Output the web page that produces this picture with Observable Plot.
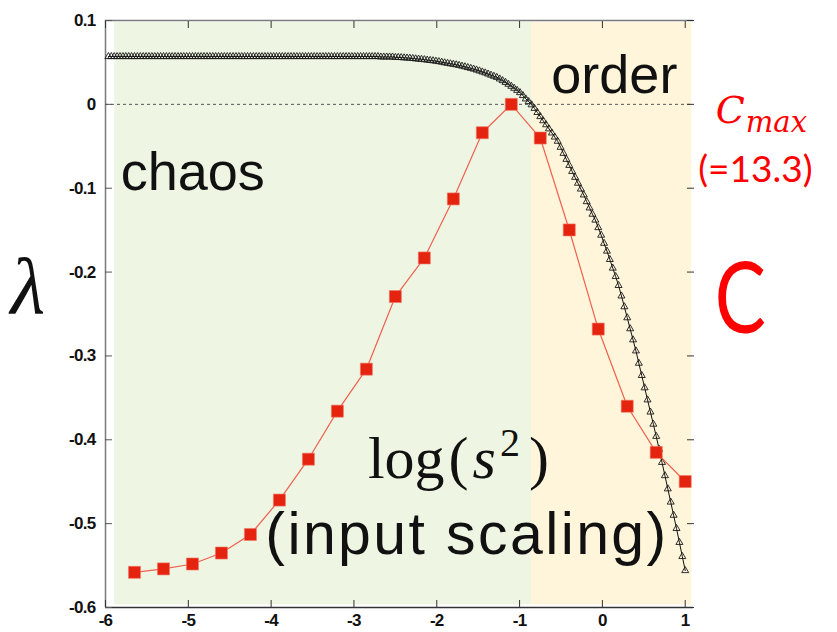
<!DOCTYPE html>
<html>
<head>
<meta charset="utf-8">
<script src="https://cdn.jsdelivr.net/npm/d3@7"></script>
<script src="https://cdn.jsdelivr.net/npm/@observablehq/plot@0.6"></script>
<style>
  html, body { margin: 0; padding: 0; background: #fff; }
  #chart svg { display: block; }
</style>
</head>
<body>
<div id="chart"></div>
<script>
// Axis ticks
const xTicks = [-6, -5, -4, -3, -2, -1, 0, 1];
const xTickLabels = ["-6", "-5", "-4", "-3", "-2", "-1", "0", "1"];
const yTicks = [0.1, 0, -0.1, -0.2, -0.3, -0.4, -0.5, -0.6];
const yTickLabels = ["0.1", "0", "-0.1", "-0.2", "-0.3", "-0.4", "-0.5", "-0.6"];

// Memory capacity C against log(s²); drawn on the λ frame with 0 at the bottom and Cmax at λ = 0
const cLogS2 = [-5.65, -5.30, -4.95, -4.60, -4.25, -3.90, -3.55, -3.20, -2.85, -2.50,
                -2.15, -1.80, -1.45, -1.10, -0.75, -0.40, -0.05, 0.30, 0.65, 1.00];
const cValues = [0.93, 1.02, 1.15, 1.44, 1.93, 2.84, 3.92, 5.19, 6.30, 8.22,
                 9.24, 10.80, 12.55, 13.3, 12.41, 9.98, 7.36, 5.32, 4.10, 3.33];
const cMax = 13.3;

// Largest Lyapunov exponent λ over the input-scaling sweep (log(s²) from -5.965 in steps of 0.035)
const lambdaStart = -5.965;
const lambdaStep = 0.035;
const lambdaValues = [
  0.057, 0.057, 0.057, 0.057, 0.057, 0.057, 0.057, 0.057, 0.057, 0.057,
  0.057, 0.057, 0.057, 0.057, 0.057, 0.057, 0.057, 0.057, 0.057, 0.057,
  0.057, 0.057, 0.057, 0.057, 0.057, 0.057, 0.057, 0.057, 0.057, 0.057,
  0.057, 0.057, 0.057, 0.057, 0.057, 0.057, 0.057, 0.057, 0.057, 0.057,
  0.057, 0.057, 0.057, 0.057, 0.057, 0.057, 0.057, 0.057, 0.057, 0.057,
  0.057, 0.057, 0.057, 0.057, 0.057, 0.057, 0.057, 0.057, 0.057, 0.057,
  0.057, 0.057, 0.057, 0.057, 0.057, 0.057, 0.057, 0.057, 0.057, 0.057,
  0.057, 0.057, 0.057, 0.057, 0.057, 0.057, 0.057, 0.057, 0.057, 0.057,
  0.057, 0.057, 0.057, 0.057, 0.057,
  0.057, 0.057, 0.057, 0.057, 0.057, 0.057, 0.057, 0.057, 0.057,
  0.0565, 0.0565, 0.0565, 0.0565, 0.0565,
  0.056, 0.056, 0.0558, 0.0555, 0.0553, 0.055, 0.0547, 0.0543, 0.054, 0.0537,
  0.0533, 0.0528, 0.0524, 0.052, 0.0515, 0.051, 0.0503, 0.0496, 0.049, 0.0484,
  0.0478, 0.0472, 0.0465, 0.0456, 0.0448, 0.0439, 0.043, 0.0421, 0.041, 0.0399,
  0.0387, 0.0375, 0.0362, 0.0348, 0.0335, 0.0322, 0.0303, 0.0283, 0.0262, 0.024,
  0.0216, 0.0192, 0.0167, 0.014, 0.0105, 0.0065, 0.0033, -0.0005, -0.0048, -0.0097,
  -0.0146, -0.0195, -0.0243, -0.0292, -0.0341, -0.039, -0.044, -0.0512, -0.0584, -0.0656,
  -0.0728, -0.08, -0.087, -0.094, -0.101, -0.108, -0.116, -0.1235, -0.131, -0.138,
  -0.147, -0.156, -0.1657, -0.175, -0.185, -0.1953, -0.2053, -0.216, -0.2285, -0.2414,
  -0.2545, -0.2676, -0.2808, -0.294, -0.3087, -0.3233, -0.338, -0.3524, -0.3669, -0.3814,
  -0.3959, -0.4113, -0.427, -0.4428, -0.4585, -0.4743, -0.49, -0.5058, -0.5224, -0.5392, -0.556
];

// Dynamical regimes shaded behind the curves
const regimeNames = ["chaos", "order"];
const regimeFrom = [-5.89, -0.855];
const regimeTo = [-0.855, 1.08];
const regimeFills = ["#eef6e3", "#fff5da"];

const lambdaData = lambdaValues.map((l, i) => ({s: +(lambdaStart + i * lambdaStep).toFixed(3), l}));
const cData = cLogS2.map((s, i) => ({s, c: cValues[i], l: -0.6 + 0.6 * cValues[i] / cMax}));
const regimeData = regimeNames.map((name, i) => ({name, x1: regimeFrom[i], x2: regimeTo[i], fill: regimeFills[i]}));

const sans = "'Liberation Sans', Arial, Helvetica, sans-serif";
const serif = "'Liberation Serif', 'DejaVu Serif', serif";
const red = "#ff0000";

const svg = Plot.plot({
  width: 837,
  height: 632,
  marginLeft: 105,
  marginRight: 144,
  marginTop: 20,
  marginBottom: 25,
  x: {domain: [-6, 1.1], label: null},
  y: {domain: [-0.6, 0.1], label: null},
  color: {type: "identity"},
  style: {fontFamily: sans, background: "#fff", overflow: "visible"},
  marks: [
    Plot.rect(regimeData, {x1: "x1", x2: "x2", y1: -0.597, y2: 0.0975, fill: "fill"}),
    Plot.ruleY([0], {stroke: "#555", strokeWidth: 1, strokeDasharray: "3,3"}),
    Plot.ruleX([-6], {stroke: "#7a7a7a", strokeWidth: 1.5}),
    Plot.ruleY([0.1], {stroke: "#7a7a7a", strokeWidth: 1.5}),
    Plot.ruleY([-0.6], {stroke: "#333", strokeWidth: 1.5}),
    Plot.axisX({anchor: "bottom", ticks: xTicks, tickSize: -7, tickPadding: 13, label: null,
      tickFormat: d => xTickLabels[xTicks.indexOf(d)], fill: "#111", stroke: "#333"}),
    Plot.axisX({anchor: "top", ticks: xTicks, tickSize: -7, label: null, tickFormat: () => "", stroke: "#333"}),
    Plot.axisY({anchor: "left", ticks: yTicks, tickSize: -7, tickPadding: 17, label: null,
      tickFormat: d => yTickLabels[yTicks.indexOf(d)], fill: "#111", stroke: "#555"}),
    Plot.axisY({anchor: "right", ticks: yTicks, tickSize: -7, label: null, tickFormat: () => "", stroke: "#333"}),
    Plot.line(lambdaData, {x: "s", y: "l", stroke: "#111", strokeWidth: 1}),
    Plot.dot(lambdaData, {x: "s", y: "l", symbol: "triangle", r: 2.6, stroke: "#1a1a1a", strokeWidth: 0.9, fill: "none"}),
    Plot.line(cData, {x: "s", y: "l", stroke: "#f0604f", strokeWidth: 1.2}),
    Plot.dot(cData, {x: "s", y: "l", symbol: "square", r: 6.8, fill: "#e52410", stroke: "#f07a68", strokeWidth: 0.6}),
    Plot.text(["chaos"], {x: -5.817, y: -0.102, text: d => d, textAnchor: "start", lineAnchor: "bottom",
      fontSize: 54, fontFamily: sans, fill: "#111"}),
    Plot.text(["order"], {x: -0.617, y: 0.0141, text: d => d, textAnchor: "start", lineAnchor: "bottom",
      fontSize: 54, fontFamily: sans, fill: "#111"}),
    Plot.text(["(input scaling)"], {x: -4.07, y: -0.536, text: d => d, textAnchor: "start", lineAnchor: "bottom",
      fontSize: 59, fontFamily: sans, fill: "#111"}),
    Plot.text(["λ"], {x: -7.146, y: -0.249, text: d => d, textAnchor: "start", lineAnchor: "bottom",
      fontSize: 80, fontFamily: serif, fontStyle: "italic", fill: "#111"}),
    Plot.text(["(=13.3)"], {x: 1.157, y: -0.092, text: d => d, textAnchor: "start", lineAnchor: "bottom",
      fontSize: 37, fontFamily: "Lato, sans-serif", fill: red})
  ]
});
document.getElementById("chart").append(svg);

const root = d3.select(svg);

// Bold, tightly set tick numbers
const tickTexts = new Set([...xTickLabels, ...yTickLabels]);
root.selectAll("text")
  .filter(function() { return tickTexts.has(this.textContent) && !this.closest('g[aria-label="text"]'); })
  .attr("font-size", 17)
  .attr("font-weight", "bold")
  .attr("letter-spacing", "-0.7")
  .style("font-size", "17px")
  .style("font-weight", "bold");

// Wider tracking on the axis caption
root.selectAll('g[aria-label="text"] text')
  .filter(function() { return this.textContent === "(input scaling)"; })
  .attr("letter-spacing", "2.4");

// Annotations with mixed styling, positioned through the plot's scales
const sx = svg.scale("x"), sy = svg.scale("y");
const px = v => sx.apply(v), py = v => sy.apply(v);
const notes = root.append("g").attr("text-anchor", "start");

// big red C
notes.append("text")
  .attr("transform", `translate(${px(1.363)},${py(-0.2733)}) scale(0.78,1)`)
  .attr("font-family", "Lato, sans-serif")
  .attr("font-size", 98)
  .attr("fill", red)
  .text("C");

// C_max
const cm = notes.append("text")
  .attr("x", px(1.375)).attr("y", py(-0.0229))
  .attr("font-family", "'DejaVu Serif', serif")
  .attr("font-style", "italic")
  .attr("fill", red);
cm.append("tspan").attr("font-size", 38).text("C");
cm.append("tspan").attr("font-size", 29).attr("dx", 1).attr("dy", 9).text("max");

// log(s²)
const lg = notes.append("text")
  .attr("x", px(-2.825)).attr("y", py(-0.4462))
  .attr("font-family", serif)
  .attr("font-size", 60)
  .attr("fill", "#111");
lg.append("tspan").text("log");
lg.append("tspan").attr("dx", 4).text("(");
lg.append("tspan").attr("dx", 4).attr("font-style", "italic").text("s");
lg.append("tspan").attr("dx", 4).attr("dy", -22).attr("font-size", 40).text("2");
lg.append("tspan").attr("dx", 9).attr("dy", 22).text(")");
</script>
</body>
</html>
